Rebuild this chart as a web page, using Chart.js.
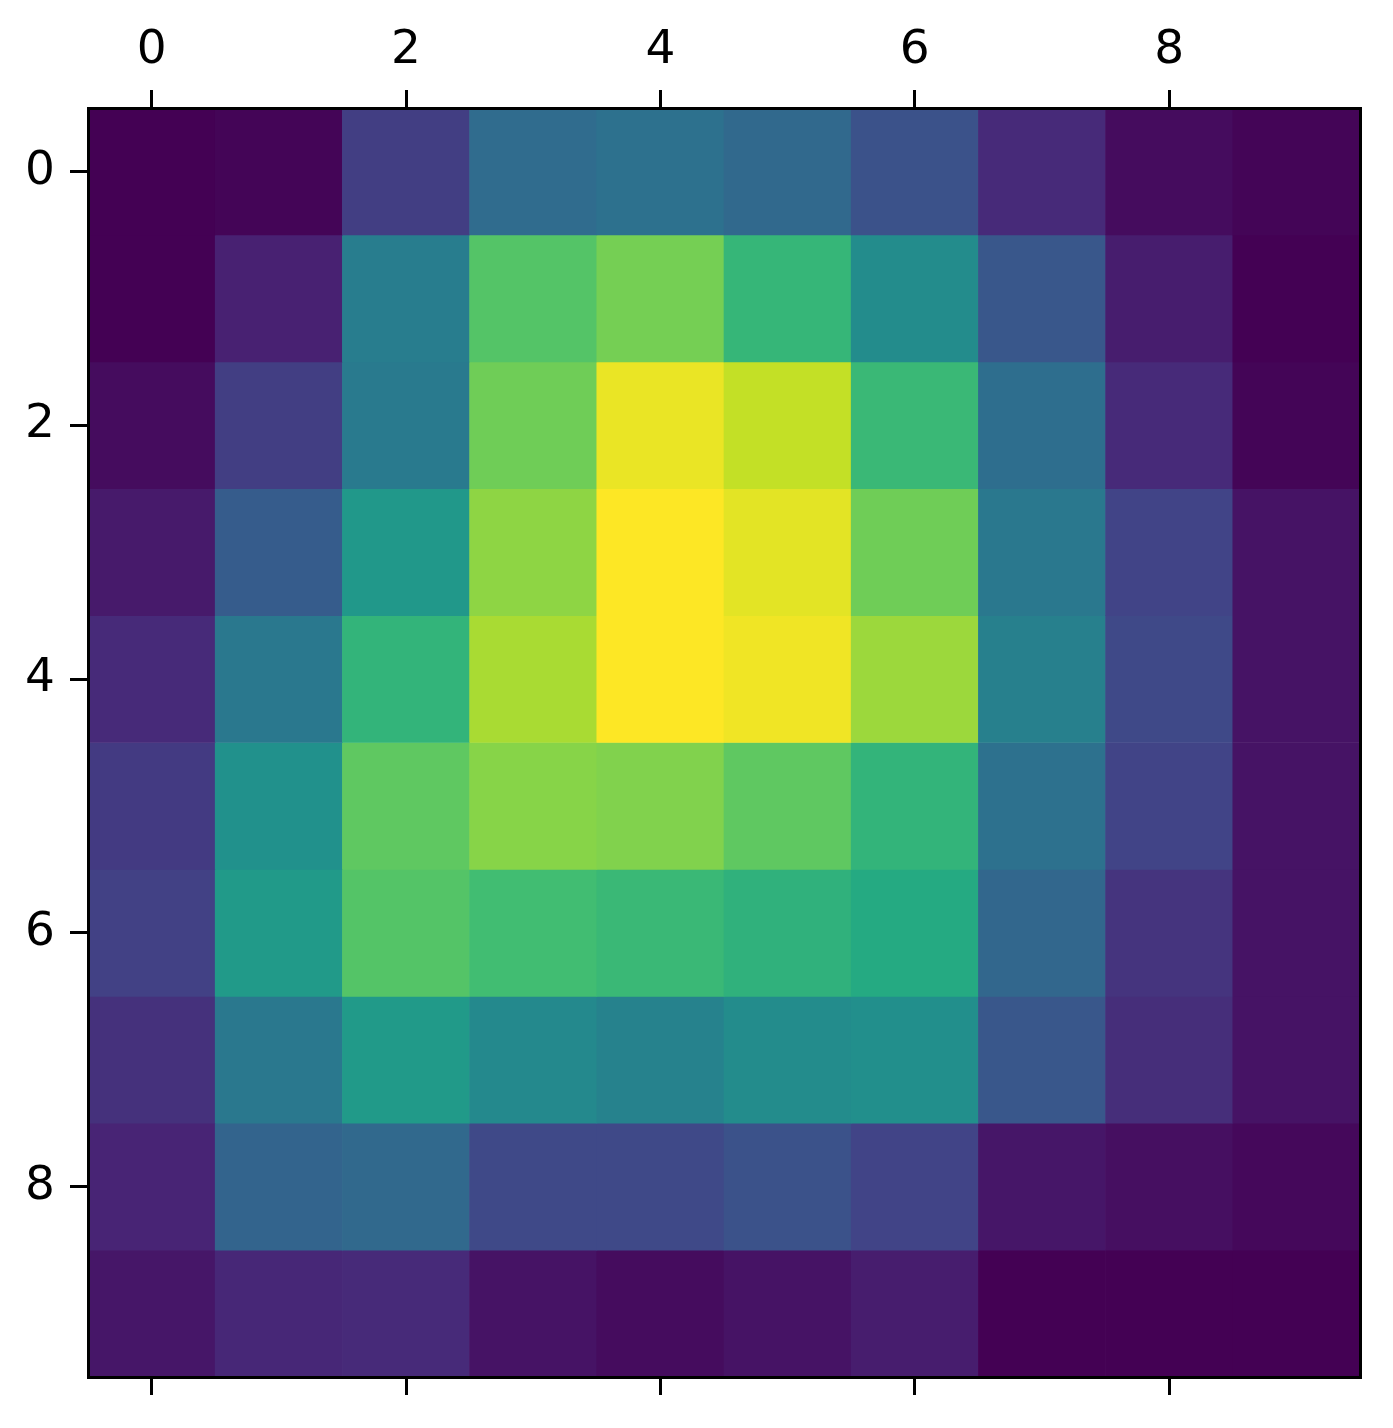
<!DOCTYPE html>
<html>
<head>
<meta charset="utf-8">
<script src="https://cdn.jsdelivr.net/npm/chart.js@4/dist/chart.umd.min.js"></script>
<style>
  body { margin: 0; background: #fff; }
  #wrap { width: 1393px; height: 1428px; }
</style>
</head>
<body>
<div id="wrap"><canvas id="heat"></canvas></div>
<script>
// matshow-style 10x10 grid (0 = darkest, 1 = brightest)
const colLabels = [0, 1, 2, 3, 4, 5, 6, 7, 8, 9];
const rowLabels = [0, 1, 2, 3, 4, 5, 6, 7, 8, 9];
const tickValues = [0, 2, 4, 6, 8];

const row0 = [0.00, 0.01, 0.18, 0.35, 0.37, 0.34, 0.25, 0.12, 0.03, 0.01];
const row1 = [0.00, 0.09, 0.42, 0.73, 0.79, 0.66, 0.48, 0.27, 0.08, 0.00];
const row2 = [0.03, 0.18, 0.41, 0.78, 0.97, 0.91, 0.67, 0.36, 0.12, 0.01];
const row3 = [0.07, 0.29, 0.53, 0.83, 1.00, 0.96, 0.78, 0.40, 0.20, 0.05];
const row4 = [0.12, 0.40, 0.65, 0.87, 1.00, 0.98, 0.85, 0.43, 0.22, 0.05];
const row5 = [0.17, 0.50, 0.75, 0.82, 0.81, 0.75, 0.65, 0.37, 0.20, 0.05];
const row6 = [0.19, 0.54, 0.73, 0.69, 0.67, 0.64, 0.61, 0.33, 0.15, 0.05];
const row7 = [0.14, 0.40, 0.54, 0.47, 0.44, 0.48, 0.49, 0.27, 0.13, 0.05];
const row8 = [0.10, 0.32, 0.34, 0.22, 0.22, 0.25, 0.20, 0.06, 0.04, 0.02];
const row9 = [0.06, 0.11, 0.12, 0.05, 0.03, 0.05, 0.08, 0.00, 0.00, 0.00];
const grid = [row0, row1, row2, row3, row4, row5, row6, row7, row8, row9];

// viridis stops
const viridis = [
  [68,1,84],[72,36,117],[65,68,135],[53,95,141],[42,120,142],[33,145,140],
  [34,168,132],[68,191,112],[122,209,81],[189,223,38],[253,231,37]
];

const allVals = grid.flat();
const vmin = Math.min(...allVals), vmax = Math.max(...allVals);

function viridisColor(v) {
  let t = (v - vmin) / (vmax - vmin);
  t = Math.max(0, Math.min(1, t)) * (viridis.length - 1);
  const i = Math.min(Math.floor(t), viridis.length - 2);
  const f = t - i;
  const a = viridis[i], b = viridis[i + 1];
  const c = a.map((x, k) => Math.round(x + (b[k] - x) * f));
  return `rgb(${c[0]},${c[1]},${c[2]})`;
}

// one floating-bar dataset per row, each bar spans one cell
const datasets = rowLabels.map((r, ri) => ({
  data: colLabels.map(c => ({ x: c, y: [r - 0.5, r + 0.5] })),
  backgroundColor: grid[ri].map(viridisColor),
  borderWidth: 0,
  barPercentage: 1,
  categoryPercentage: 1,
  grouped: false,
  xAxisID: 'x',
  yAxisID: 'y'
}));

const FONT = { family: 'DejaVu Sans', size: 47 };
const setTicks = s => { s.ticks = tickValues.map(v => ({ value: v })); };
const axisGrid = { offset: false, drawOnChartArea: false, drawTicks: true, tickLength: 18, tickWidth: 3, lineWidth: 3, color: '#000' };
const axisBorder = { display: true, width: 3, color: '#000', z: 1 };

new Chart(document.getElementById('heat'), {
  type: 'bar',
  data: { datasets },
  options: {
    responsive: true,
    maintainAspectRatio: false,
    animation: false,
    layout: { padding: 0 },
    plugins: { legend: { display: false }, tooltip: { enabled: false } },
    scales: {
      x: {
        type: 'linear', position: 'top', display: true, offset: false,
        min: -0.5, max: 9.5,
        afterBuildTicks: setTicks,
        afterFit: s => { s.height = 108; },
        ticks: { color: '#000', font: FONT, padding: 11, maxRotation: 0 },
        grid: axisGrid, border: axisBorder
      },
      x2: {
        type: 'linear', position: 'bottom', display: true, offset: false,
        min: -0.5, max: 9.5,
        afterBuildTicks: setTicks,
        afterFit: s => { s.height = 51; },
        ticks: { display: false },
        grid: axisGrid, border: axisBorder
      },
      y: {
        type: 'linear', position: 'left', reverse: true,
        min: -0.5, max: 9.5,
        afterBuildTicks: setTicks,
        afterFit: s => { s.width = 88; },
        ticks: { color: '#000', font: FONT, padding: 15 },
        grid: axisGrid, border: axisBorder
      },
      y2: {
        type: 'linear', position: 'right', display: true,
        afterFit: s => { s.width = 33; },
        ticks: { display: false },
        grid: { display: false }, border: axisBorder
      }
    }
  }
});
</script>
</body>
</html>
